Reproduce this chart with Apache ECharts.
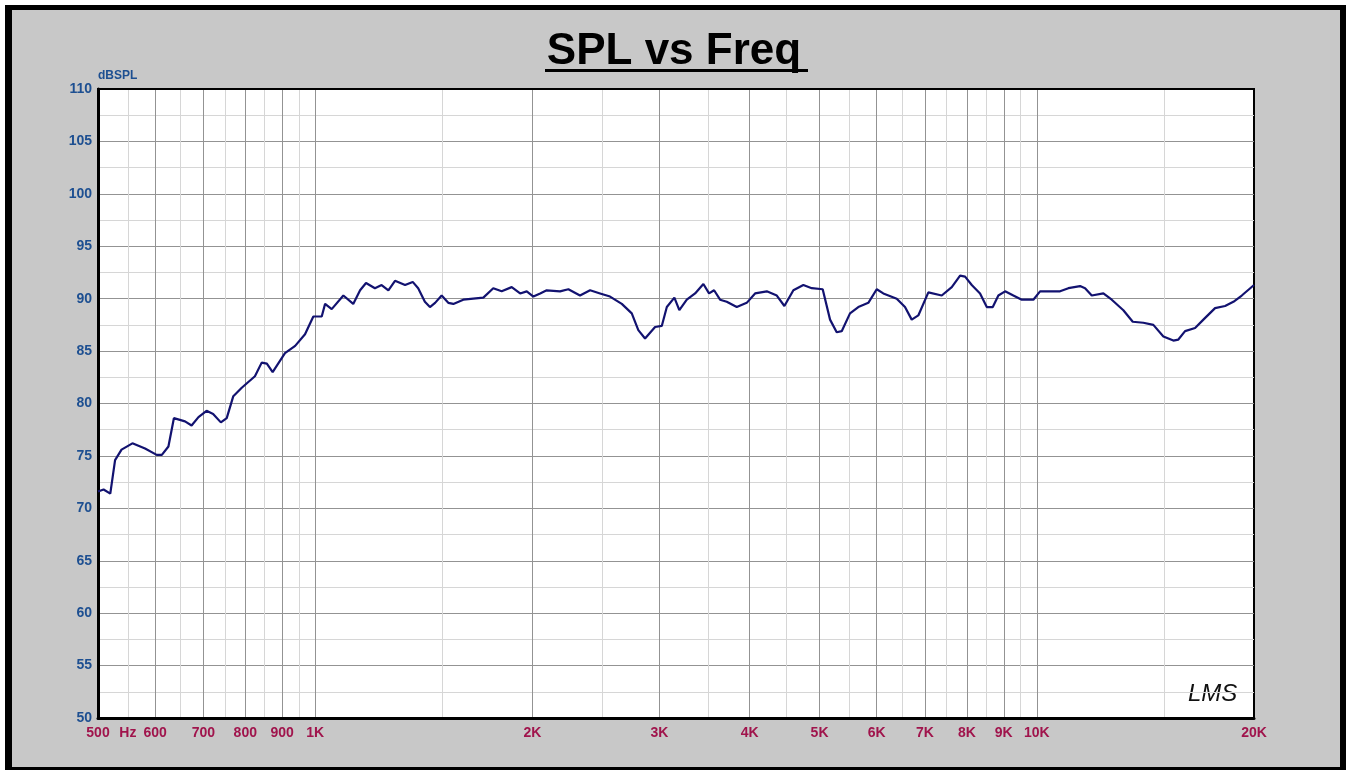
<!DOCTYPE html>
<html>
<head>
<meta charset="utf-8">
<script src="https://cdn.jsdelivr.net/npm/echarts@6/dist/echarts.min.js"></script>
<style>
  html, body { margin: 0; padding: 0; background: #fff; }
  .frame {
    position: absolute; left: 5px; top: 5px; width: 1341px; height: 765px;
    box-sizing: border-box; background: #c8c8c8;
    border-left: 7px solid #000; border-top: 5px solid #000;
    border-right: 6px solid #000; border-bottom: 3px solid #000;
  }
  #chart { position: absolute; left: 0; top: 0; width: 1348px; height: 771px; }
</style>
</head>
<body>
<div class="frame"></div>
<div id="chart"></div>
<script>
// frequency (Hz) and level (dBSPL)
var freqs = [500, 509, 520, 528, 539, 558, 581, 603, 613, 626,
  637, 660, 674, 689, 707, 722, 740, 754, 770, 791,
  825, 843, 857, 873, 908, 938, 968, 994, 1021, 1032,
  1054, 1094, 1129, 1154, 1176, 1210, 1236, 1263, 1290, 1332,
  1365, 1389, 1419, 1442, 1466, 1497, 1529, 1554, 1604, 1656,
  1710, 1765, 1813, 1872, 1923, 1964, 2006, 2050, 2093, 2184,
  2243, 2328, 2404, 2482, 2562, 2660, 2746, 2804, 2865, 2958,
  3022, 3071, 3146, 3196, 3273, 3361, 3451, 3514, 3571, 3640,
  3718, 3839, 3963, 4070, 4225, 4362, 4469, 4599, 4748, 4877,
  5050, 5170, 5281, 5366, 5510, 5658, 5842, 6000, 6128, 6396,
  6567, 6709, 6852, 7075, 7384, 7624, 7829, 7955, 8126, 8344,
  8525, 8690, 8846, 9038, 9280, 9532, 9891, 10105, 10433, 10771,
  11061, 11481, 11666, 11918, 12367, 12703, 13182, 13583, 14050, 14506,
  14977, 15463, 15711, 16051, 16572, 17017, 17663, 18236, 18726, 19235,
  20000];
var spl = [71.6, 71.8, 71.4, 74.6, 75.6, 76.2, 75.7, 75.1, 75.1, 75.9,
  78.6, 78.3, 77.9, 78.7, 79.3, 79.0, 78.2, 78.6, 80.7, 81.5,
  82.6, 83.9, 83.8, 83.0, 84.8, 85.5, 86.6, 88.3, 88.3, 89.5,
  89.0, 90.3, 89.5, 90.8, 91.5, 91.0, 91.3, 90.8, 91.7, 91.3,
  91.6, 91.0, 89.7, 89.2, 89.6, 90.3, 89.6, 89.5, 89.9, 90.0,
  90.1, 91.0, 90.7, 91.1, 90.5, 90.7, 90.2, 90.5, 90.8, 90.7,
  90.9, 90.3, 90.8, 90.5, 90.2, 89.5, 88.6, 87.0, 86.2, 87.3,
  87.4, 89.2, 90.1, 88.9, 89.9, 90.5, 91.4, 90.5, 90.8, 89.9,
  89.7, 89.2, 89.6, 90.5, 90.7, 90.3, 89.3, 90.8, 91.3, 91.0,
  90.9, 88.0, 86.8, 86.9, 88.6, 89.2, 89.6, 90.9, 90.5, 90.0,
  89.2, 88.0, 88.4, 90.6, 90.3, 91.1, 92.2, 92.1, 91.3, 90.5,
  89.2, 89.2, 90.3, 90.7, 90.3, 89.9, 89.9, 90.7, 90.7, 90.7,
  91.0, 91.2, 91.0, 90.3, 90.5, 89.9, 88.9, 87.8, 87.7, 87.5,
  86.4, 86.0, 86.1, 86.9, 87.2, 88.0, 89.1, 89.3, 89.7, 90.3,
  91.3];

// x grid / labels
var majorFreqs = [600, 700, 800, 900, 1000, 2000, 3000, 4000, 5000, 6000, 7000, 8000, 9000, 10000];
var minorFreqs = [550, 650, 750, 850, 950, 1500, 2500, 3500, 4500, 5500, 6500, 7500, 8500, 9500, 15000];
var labelFreqs = [500, 550, 600, 700, 800, 900, 1000, 2000, 3000, 4000, 5000, 6000, 7000, 8000, 9000, 10000, 20000];

var chart = echarts.init(document.getElementById('chart'));

function freqLabel(v) {
  v = Math.round(v);
  if (v === 550) return 'Hz';
  return v >= 1000 ? (v / 1000) + 'K' : String(v);
}

var option = {
  animation: false,
  title: {
    text: 'SPL vs Freq',
    left: 'center',
    top: 25,
    textStyle: { fontFamily: 'Liberation Sans, Arial', fontWeight: 'bold', fontSize: 44, color: '#000' }
  },
  grid: {
    left: 98, top: 89, right: 94, bottom: 53,
    show: true, backgroundColor: '#fff', borderColor: '#000', borderWidth: 2
  },
  xAxis: [
    {
      type: 'log', logBase: 10, min: 500, max: 20000,
      axisLine: { show: true, onZero: false, lineStyle: { color: '#000', width: 3 } },
      axisTick: { show: false, customValues: majorFreqs },
      splitLine: { show: true, lineStyle: { color: '#939393', width: 1 } },
      axisLabel: {
        customValues: labelFreqs,
        showMinLabel: true, showMaxLabel: true,
        formatter: freqLabel,
        color: '#a0144c', fontWeight: 'bold', fontSize: 14,
        fontFamily: 'Liberation Sans, Arial', margin: 8
      }
    },
    {
      type: 'log', logBase: 10, min: 500, max: 20000, position: 'top',
      axisLine: { show: true, onZero: false, lineStyle: { color: '#000', width: 2 } },
      axisTick: { show: false, customValues: minorFreqs },
      axisLabel: { show: false },
      splitLine: { show: true, lineStyle: { color: '#d6d6d6', width: 1 } }
    }
  ],
  yAxis: {
    type: 'value', min: 50, max: 110, interval: 5,
    name: 'dBSPL', nameLocation: 'end', nameGap: 7,
    nameTextStyle: { color: '#1d4f91', fontWeight: 'bold', fontSize: 12, align: 'left', fontFamily: 'Liberation Sans, Arial' },
    axisLine: { show: true, lineStyle: { color: '#000', width: 3 } },
    axisTick: { show: false },
    minorTick: { show: false, splitNumber: 2 },
    splitLine: { show: true, lineStyle: { color: '#939393', width: 1 } },
    minorSplitLine: { show: true, lineStyle: { color: '#d6d6d6', width: 1 } },
    axisLabel: { color: '#1d4f91', fontWeight: 'bold', fontSize: 14, fontFamily: 'Liberation Sans, Arial', margin: 6 }
  },
  graphic: [
    { type: 'rect', shape: { x: 545, y: 69, width: 263, height: 3 }, style: { fill: '#000' } },
    { type: 'text', x: 1188, y: 682,
      style: { text: 'LMS', font: 'italic 24px "Liberation Sans"', fill: '#111' } }
  ],
  series: [
    {
      name: 'SPL', type: 'line', xAxisIndex: 0,
      showSymbol: false, smooth: false,
      lineStyle: { color: '#121270', width: 2.2 },
      data: freqs.map(function (f, i) { return [f, spl[i]]; }),
      z: 5
    }
  ]
};

chart.setOption(option);
</script>
</body>
</html>
